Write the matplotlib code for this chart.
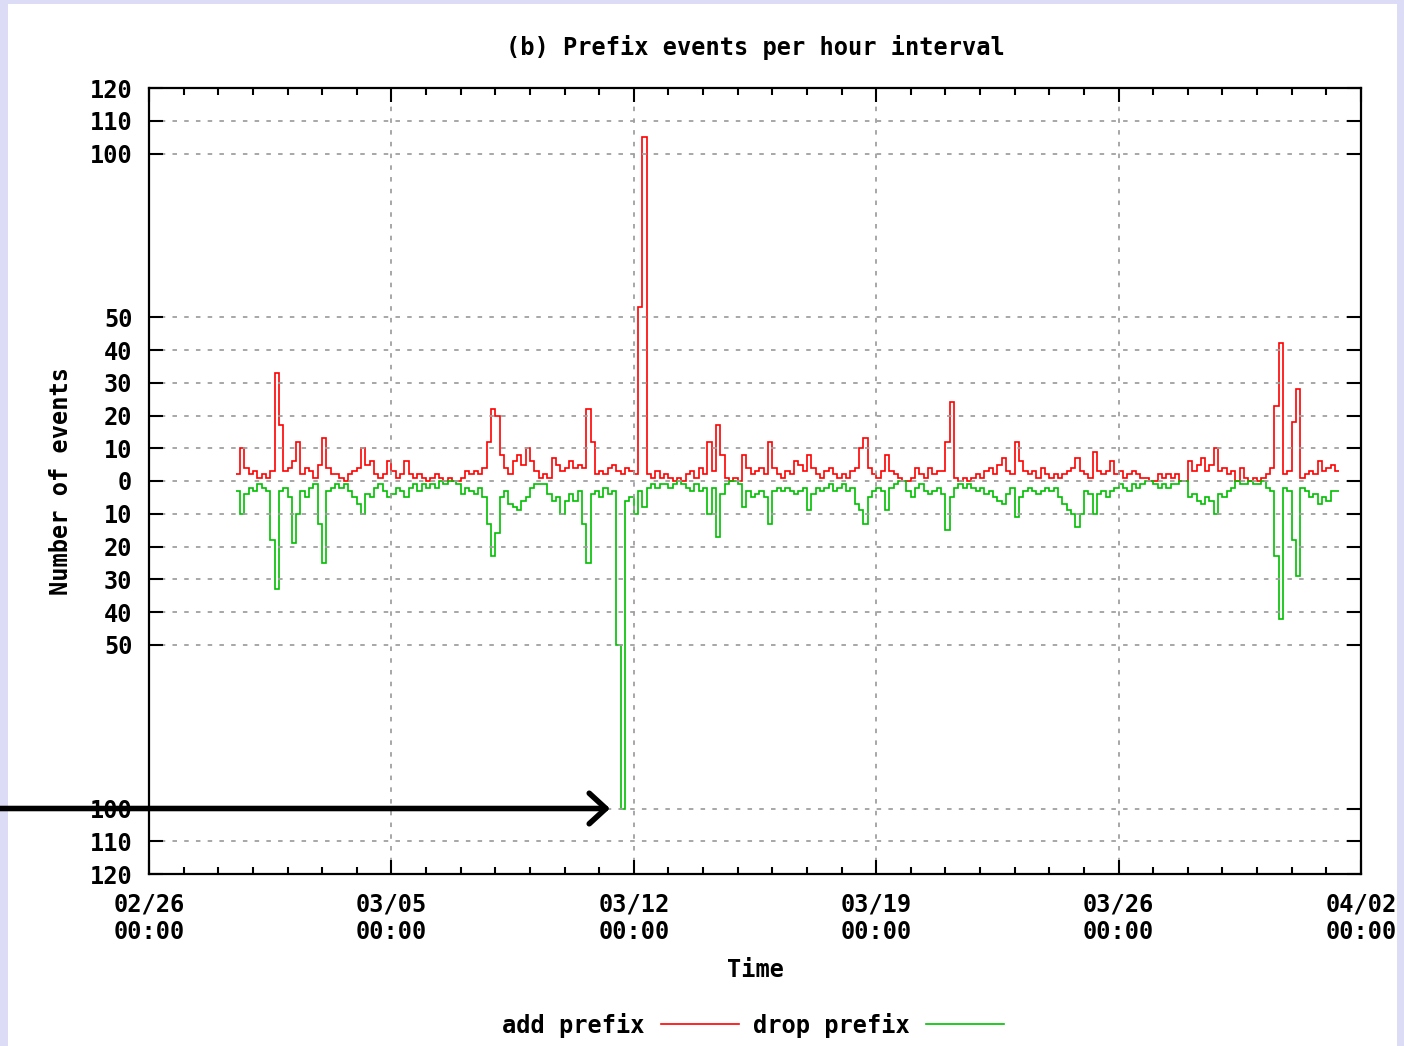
"""
Prefix events per hour interval: add / drop prefix counts over about a month,
drawn in the style of the gnuplot original.
"""
import matplotlib
matplotlib.use("Agg")
import matplotlib.pyplot as plt
import matplotlib.dates as mdates
import matplotlib.ticker as mticker
import pandas as pd
from matplotlib.patches import Rectangle

# one value per 3 hour bin, first bin starts 02/28 12:00
start_time = "2007-02-28 12:00"
bin_freq = "3h"

add_prefix = [
    2, 10, 4, 2, 3, 1, 2, 1, 3, 33,
    17, 3, 4, 6, 12, 2, 4, 3, 1, 5,
    13, 4, 2, 2, 1, 0, 2, 3, 4, 10,
    5, 6, 2, 1, 2, 6, 3, 1, 2, 6,
    2, 1, 2, 1, 0, 1, 2, 1, 0, 1,
    0, 0, 1, 3, 2, 3, 2, 4, 12, 22,
    20, 8, 4, 2, 6, 8, 5, 10, 6, 3,
    1, 2, 1, 7, 5, 3, 4, 6, 4, 5,
    4, 22, 12, 2, 3, 2, 4, 5, 3, 2,
    4, 3, 2, 53, 105, 2, 1, 3, 1, 2,
    1, 0, 1, 0, 2, 3, 1, 4, 2, 12,
    3, 17, 8, 1, 0, 1, 0, 8, 4, 2,
    3, 4, 2, 12, 4, 2, 1, 3, 2, 6,
    5, 3, 8, 4, 2, 1, 3, 4, 2, 1,
    2, 1, 3, 4, 10, 13, 4, 2, 1, 3,
    8, 3, 2, 1, 0, 0, 1, 4, 2, 1,
    4, 2, 3, 3, 12, 24, 1, 0, 1, 0,
    1, 2, 1, 3, 4, 2, 5, 7, 3, 2,
    12, 6, 3, 2, 3, 1, 4, 2, 1, 2,
    1, 2, 3, 4, 7, 3, 2, 1, 9, 3,
    2, 3, 6, 2, 3, 1, 2, 3, 2, 1,
    1, 0, 0, 2, 1, 2, 1, 2, 0, 0,
    6, 3, 5, 7, 3, 5, 10, 3, 4, 2,
    3, 0, 4, 1, 0, 1, 0, 1, 2, 4,
    23, 42, 2, 3, 18, 28, 1, 2, 3, 2,
    6, 3, 4, 5, 3,
]

# drop counts, stored positive, plotted below zero
drop_prefix = [
    3, 10, 4, 2, 3, 1, 2, 3, 18, 33,
    3, 2, 5, 19, 10, 3, 5, 2, 1, 13,
    25, 3, 2, 1, 2, 1, 3, 5, 7, 10,
    4, 5, 2, 1, 3, 5, 4, 2, 3, 5,
    2, 1, 3, 1, 2, 1, 2, 0, 1, 0,
    0, 1, 4, 2, 3, 4, 2, 5, 13, 23,
    16, 5, 3, 7, 8, 9, 6, 5, 2, 1,
    1, 1, 4, 6, 5, 10, 6, 4, 6, 3,
    13, 25, 4, 3, 5, 2, 4, 3, 50, 100,
    6, 5, 10, 3, 8, 2, 1, 2, 1, 1,
    2, 1, 0, 1, 2, 3, 1, 3, 2, 10,
    2, 17, 4, 1, 0, 0, 1, 8, 3, 5,
    4, 3, 5, 13, 3, 2, 3, 2, 3, 4,
    3, 2, 9, 4, 2, 3, 2, 1, 3, 2,
    1, 3, 2, 7, 9, 13, 5, 3, 2, 3,
    9, 2, 1, 0, 0, 3, 5, 2, 1, 3,
    4, 3, 2, 4, 15, 5, 2, 1, 2, 1,
    2, 3, 2, 4, 3, 5, 6, 7, 4, 2,
    11, 5, 3, 2, 3, 4, 3, 2, 3, 2,
    5, 7, 9, 10, 14, 10, 3, 4, 10, 4,
    3, 5, 3, 2, 1, 2, 3, 1, 2, 1,
    0, 0, 1, 2, 1, 2, 1, 1, 0, 0,
    5, 4, 6, 7, 5, 6, 10, 4, 5, 3,
    2, 0, 1, 1, 0, 1, 1, 0, 2, 3,
    23, 42, 2, 3, 18, 29, 2, 3, 5, 4,
    7, 5, 6, 3, 3,
]

y_ticks = [-120, -110, -100, -50, -40, -30, -20, -10, 0,
           10, 20, 30, 40, 50, 100, 110, 120]
x_start = "2007-02-26"
x_end = "2007-04-02"
arrow_time = "2007-03-11 07:30"
arrow_value = -100

W, H = 1404, 1046
FONT = 17

plt.rcParams["font.family"] = ["DejaVu Sans Mono"]
plt.rcParams["font.weight"] = "bold"
plt.rcParams["axes.titleweight"] = "bold"
plt.rcParams["axes.labelweight"] = "bold"

edges = pd.date_range(start_time, periods=len(add_prefix) + 1, freq=bin_freq)
edges_num = mdates.date2num(edges.to_pydatetime())

fig = plt.figure(figsize=(W / 100, H / 100), dpi=100, facecolor="#dcdcf7")
# white page inside the lavender frame
fig.add_artist(Rectangle((8 / W, 0), (1397 - 8) / W, 1 - 4 / H,
                         transform=fig.transFigure, facecolor="white",
                         edgecolor="none", zorder=-5))

ax = fig.add_axes([149 / W, (H - 874) / H, 1212 / W, 786 / H])

ax.stairs(add_prefix, edges_num, baseline=None, color="#ff0000", lw=1.2,
          label="add prefix")
ax.stairs([-v for v in drop_prefix], edges_num, baseline=None,
          color="#00c000", lw=1.2, label="drop prefix")

# x axis: weekly labels, daily minor ticks
ax.set_xlim(mdates.date2num(pd.Timestamp(x_start)),
            mdates.date2num(pd.Timestamp(x_end)))
major_days = pd.date_range(x_start, x_end, freq="7D")
minor_days = pd.date_range(x_start, x_end, freq="D")
ax.xaxis.set_major_locator(mticker.FixedLocator(mdates.date2num(major_days.to_pydatetime())))
ax.xaxis.set_minor_locator(mticker.FixedLocator(mdates.date2num(minor_days.to_pydatetime())))
ax.xaxis.set_major_formatter(mdates.DateFormatter("%m/%d\n%H:%M"))

# y axis: linear, labels show magnitudes on both sides of zero
ax.set_ylim(-120, 120)
ax.yaxis.set_major_locator(mticker.FixedLocator(y_ticks))
ax.yaxis.set_major_formatter(mticker.FuncFormatter(lambda v, p: "%d" % abs(v)))

ax.tick_params(which="major", direction="in", length=10, width=1.5,
               top=True, right=True, labelsize=FONT)
ax.tick_params(which="minor", direction="in", length=5, width=1.5,
               top=True, right=False)
ax.tick_params(axis="y", pad=12)
ax.tick_params(axis="x", pad=13)
for s in ax.spines.values():
    s.set_linewidth(1.6)

ax.grid(True, which="major", color="#a0a0a0", linestyle=(0, (2.5, 4)), lw=1.3)

ax.set_title("(b) Prefix events per hour interval", fontsize=FONT, pad=24)
ax.set_xlabel("Time", fontsize=FONT, labelpad=10)
ax.set_ylabel("Number of events", fontsize=FONT, labelpad=12)

handles, labels = ax.get_legend_handles_labels()
fig.legend(handles, labels, loc="center", bbox_to_anchor=(753 / W, 1 - 1025 / H),
           ncol=2, frameon=False, markerfirst=False, handlelength=3.3,
           handletextpad=0.7, columnspacing=0.6, fontsize=FONT)

# arrow pointing at the -100 drop spike
ax.annotate("", xy=(mdates.date2num(pd.Timestamp(arrow_time)), arrow_value),
            xycoords="data", xytext=(0, arrow_value),
            textcoords=("figure fraction", "data"),
            arrowprops=dict(arrowstyle="->,head_length=0.6,head_width=0.55",
                            lw=4, color="black", mutation_scale=20,
                            shrinkA=0, shrinkB=0),
            annotation_clip=False)

plt.savefig("out.png", dpi=100, facecolor=fig.get_facecolor())
